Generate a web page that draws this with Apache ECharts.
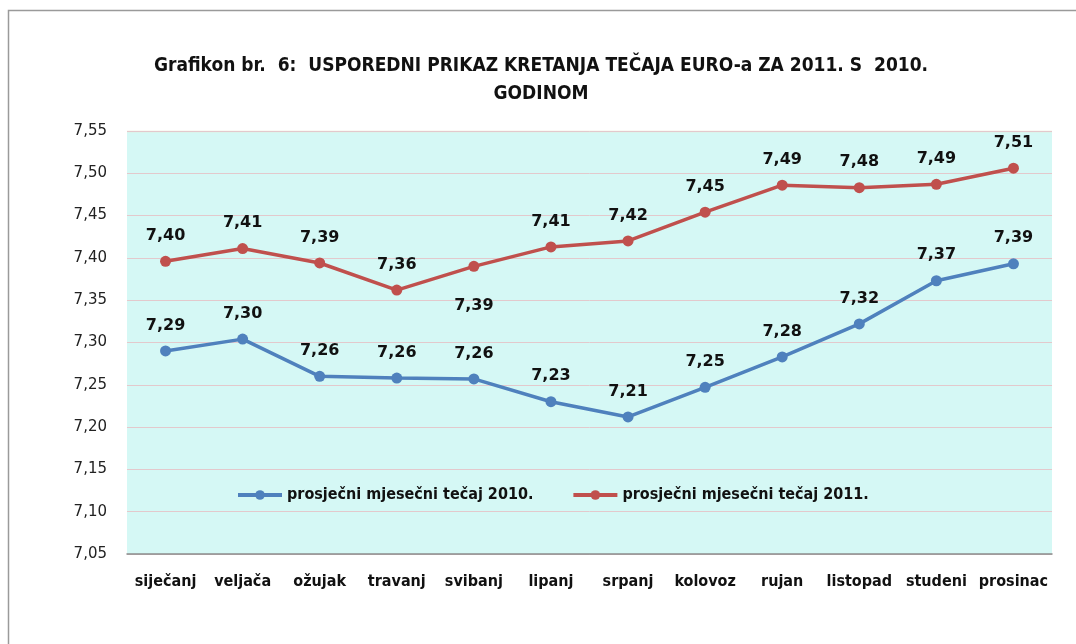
<!DOCTYPE html>
<html>
<head>
  <meta charset="UTF-8" />
  <title>Grafikon br. 6</title>
  <script src="https://cdn.jsdelivr.net/npm/echarts@6/dist/echarts.min.js"></script>
  <style>
    html, body { margin: 0; height: 100%; background-color: #fff; }
    #main { width: 1076px; height: 644px; }
  </style>
</head>
<body>
  <div id="main"></div>
  <script>
    const months = ['siječanj', 'veljača', 'ožujak', 'travanj', 'svibanj', 'lipanj',
      'srpanj', 'kolovoz', 'rujan', 'listopad', 'studeni', 'prosinac'];
    const tecaj2010 = [7.290, 7.304, 7.260, 7.258, 7.257, 7.230, 7.212, 7.247, 7.283, 7.322, 7.373, 7.393];
    const tecaj2011 = [7.396, 7.411, 7.394, 7.362, 7.390, 7.413, 7.420, 7.454, 7.486, 7.483, 7.487, 7.506];
    // indeks mjeseca čija je oznaka ispod točke
    const labelBelow2011 = [4];

    const font = "'Liberation Sans Narrow', 'DejaVu Sans Condensed', sans-serif";
    const fmt = p => p.value.toFixed(2).replace('.', ',');

    const chart = echarts.init(document.getElementById('main'));
    chart.setOption({
      backgroundColor: '#fff',
      animation: false,
      graphic: [{
        type: 'rect',
        shape: { x: 8.5, y: 10.5, width: 1100, height: 700 },
        style: { fill: 'none', stroke: '#9a9a9a', lineWidth: 1.5 },
        silent: true
      }, {
        type: 'line',
        shape: { x1: 127, y1: 131.5, x2: 1052, y2: 131.5 },
        style: { stroke: '#ece8d4', lineWidth: 1.5 },
        silent: true
      }],
      title: {
        text: 'Grafikon br.  6:  USPOREDNI PRIKAZ KRETANJA TEČAJA EURO-a ZA 2011. S  2010.\nGODINOM',
        left: 536,
        textAlign: 'center',
        top: 47,
        textStyle: { fontFamily: font, fontSize: 19, fontWeight: 'bold', color: '#111', lineHeight: 28 }
      },
      legend: {
        left: 231,
        top: 482,
        itemWidth: 44,
        itemHeight: 12,
        itemGap: 38,
        lineStyle: { width: 4 },
        textStyle: { fontFamily: font, fontSize: 16, fontWeight: 'bold', color: '#111' },
        data: ['prosječni mjesečni tečaj 2010.', 'prosječni mjesečni tečaj 2011.']
      },
      grid: {
        left: 127, right: 24, top: 131, bottom: 90,
        show: true, backgroundColor: '#d5f8f5', borderWidth: 0
      },
      xAxis: {
        type: 'category',
        data: months,
        boundaryGap: true,
        axisTick: { show: false },
        axisLine: { lineStyle: { color: '#8c8c8c', width: 1.5 } },
        axisLabel: { fontFamily: font, fontSize: 16, fontWeight: 'bold', color: '#111', margin: 20, interval: 0 }
      },
      yAxis: {
        type: 'value',
        min: 7.05, max: 7.55, interval: 0.05,
        axisLine: { show: false },
        axisTick: { show: false },
        splitLine: { lineStyle: { color: '#e3c9cc', width: 1 } },
        axisLabel: {
          fontFamily: "'DejaVu Sans', sans-serif", fontSize: 15, color: '#222', margin: 20,
          formatter: v => v.toFixed(2).replace('.', ',')
        }
      },
      series: [
        {
          name: 'prosječni mjesečni tečaj 2010.',
          type: 'line',
          data: tecaj2010,
          symbol: 'circle',
          symbolSize: 11,
          lineStyle: { color: '#4f81bd', width: 3.5 },
          itemStyle: { color: '#4f81bd' },
          label: {
            show: true, position: 'top', distance: 12, formatter: fmt,
            fontFamily: "'DejaVu Sans', sans-serif", fontSize: 16, fontWeight: 'bold', color: '#111'
          }
        },
        {
          name: 'prosječni mjesečni tečaj 2011.',
          type: 'line',
          data: tecaj2011.map((v, i) => labelBelow2011.includes(i)
            ? { value: v, label: { position: 'bottom', distance: 26 } }
            : v),
          symbol: 'circle',
          symbolSize: 11,
          lineStyle: { color: '#c0504d', width: 3.5 },
          itemStyle: { color: '#c0504d' },
          label: {
            show: true, position: 'top', distance: 12, formatter: fmt,
            fontFamily: "'DejaVu Sans', sans-serif", fontSize: 16, fontWeight: 'bold', color: '#111'
          }
        }
      ]
    });
  </script>
</body>
</html>
